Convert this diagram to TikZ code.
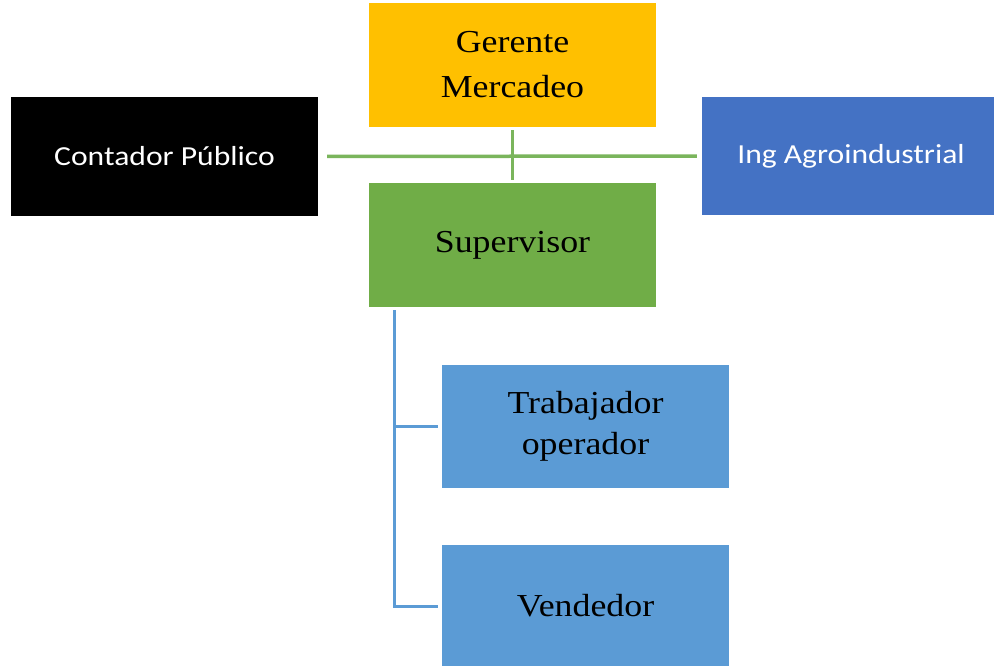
\documentclass[tikz,border=0pt]{standalone}
\usepackage{fontspec}
\newfontfamily\srf[FakeStretch=1.12]{Liberation Serif}
\newfontfamily\snf[FakeStretch=1.15]{Carlito}
\definecolor{cOrange}{HTML}{FFC000}
\definecolor{cGreen}{HTML}{70AD47}
\definecolor{cLine}{HTML}{7AB55C}
\definecolor{cLblue}{HTML}{5B9BD5}
\definecolor{cDblue}{HTML}{4472C4}
\tikzset{
  box/.style={rectangle, inner sep=0pt, draw=none, align=center},
  serifbox/.style={box, text=black, font=\srf\fontsize{32}{45}\selectfont},
  sansbox/.style={box, text=white, font=\snf\fontsize{27.5}{32}\selectfont},
  greenline/.style={draw=cLine, line width=3.5pt},
  blueline/.style={draw=cLblue, line width=3pt},
}
\begin{document}
\begin{tikzpicture}[x=1pt,y=1pt]
\useasboundingbox (0,0) rectangle (994,-666);
\clip (0,0) rectangle (994,-666);
\fill[white] (0,0) rectangle (994,-666);
\node[serifbox, fill=cOrange, minimum width=287pt, minimum height=124pt] (ger) at (512.5,-65) {Gerente\\Mercadeo};
\node[serifbox, fill=cGreen, minimum width=287pt, minimum height=124pt] (sup) at (512.5,-245) {Supervisor};
\node[sansbox, fill=black, minimum width=307pt, minimum height=119pt] (cont) at (164.5,-156.5) {Contador Público};
\node[sansbox, fill=cDblue, minimum width=298pt, minimum height=118pt] (ing) at (851,-156) {Ing Agroindustrial};
\node[serifbox, fill=cLblue, minimum width=287pt, minimum height=123pt, font=\srf\fontsize{32}{41}\selectfont] (trab) at (585.5,-426.5) {Trabajador\\operador};
\node[serifbox, fill=cLblue, minimum width=287pt, minimum height=122pt] (vend) at (585.5,-606) {Vendedor};
\draw[greenline, shorten <=9pt, shorten >=5pt] (cont.east) -- (ing.west);
\draw[greenline, shorten <=3pt, shorten >=3pt] (ger.south) -- (sup.north);
\coordinate (bus) at ([xshift=26pt,yshift=-3pt]sup.south west);
\draw[blueline] (bus) |- ([xshift=-4pt]vend.west);
\draw[blueline] (bus |- trab.west) -- ([xshift=-4pt]trab.west);
\end{tikzpicture}
\end{document}
